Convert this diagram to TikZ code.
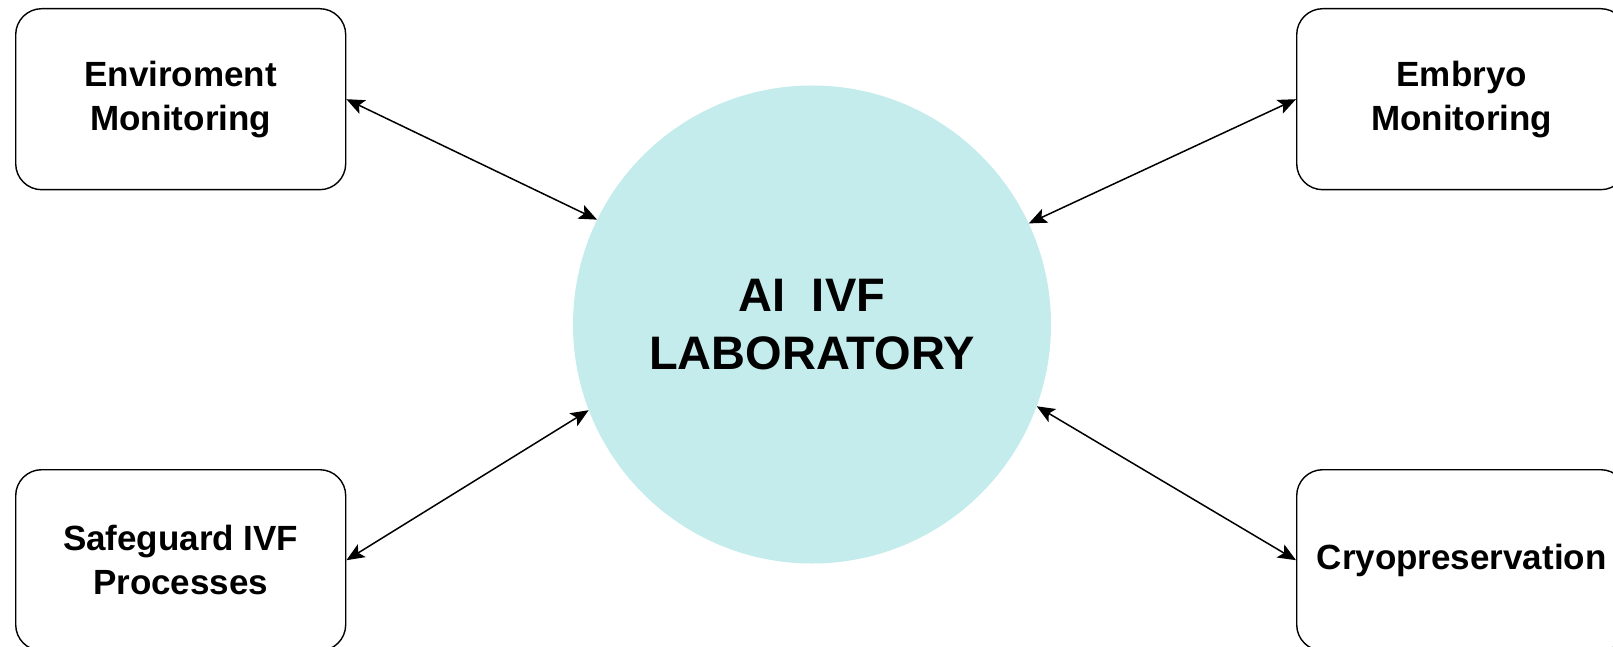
\documentclass[tikz,border=0pt]{standalone}
\usepackage{fontspec}
\setmainfont{Liberation Sans}
\usetikzlibrary{arrows.meta}
\definecolor{labfill}{RGB}{196,236,236}
\begin{document}
\begin{tikzpicture}[x=1pt,y=-1pt,
  box/.style={draw=black, line width=1.4pt, rounded corners=26pt, minimum width=330pt, minimum height=181pt, inner sep=0pt, align=center, font=\fontsize{35}{44}\selectfont\bfseries, anchor=north west},
  hub/.style={circle, fill=labfill, minimum size=478pt, inner sep=0pt, align=center, font=\fontsize{47}{58}\selectfont\bfseries},
  tip/.tip={Stealth[length=18pt,width=15pt,inset=4pt]},
  link/.style={line width=1.5pt, tip-tip}]
\useasboundingbox (0,0) rectangle (1613,647);
\node[hub] (lab) at (812,324.5) {AI\ \ IVF\\LABORATORY};
\node[box] (env) at (15,8) {Enviroment\\Monitoring};
\node[box] (emb) at (1296,8) {Embryo\\Monitoring};
\node[box] (safe) at (15,469) {Safeguard IVF\\Processes};
\node[box] (cryo) at (1296,469) {Cryopreservation};
\draw[link] (env.east) -- (lab.154.4);
\draw[link] (emb.west) -- (lab.25.05);
\draw[link] (safe.east) -- (lab.201.3);
\draw[link] (cryo.west) -- (lab.340.2);
\end{tikzpicture}
\end{document}
